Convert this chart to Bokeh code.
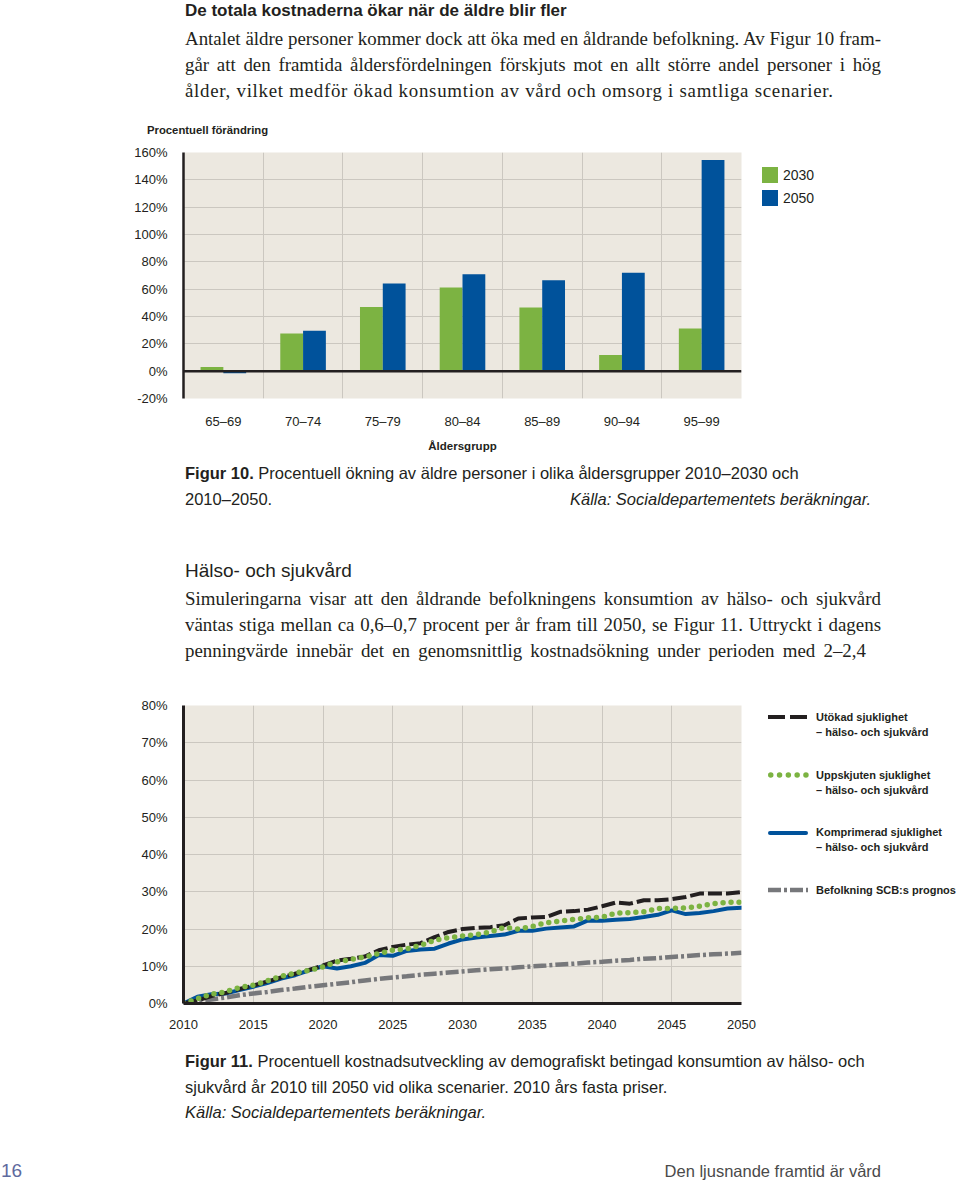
from bokeh.plotting import figure
from bokeh.models import (Range1d, FixedTicker, PrintfTickFormatter, Span,
                          ColumnDataSource, Div)
from bokeh.layouts import column, row
from bokeh.transform import dodge
from bokeh.embed import file_html
from bokeh.resources import INLINE

# ---------------- data ----------------
age_groups = ["65–69", "70–74", "75–79", "80–84", "85–89", "90–94", "95–99"]
change_2030 = [3.0, 27.6, 47.0, 61.2, 46.6, 11.9, 31.2]
change_2050 = [-1.5, 29.5, 64.2, 71.0, 66.6, 72.0, 154.5]
bar_series = ["2030", "2050"]
bar_y_ticks = [-20, 0, 20, 40, 60, 80, 100, 120, 140, 160]

years = list(range(2010, 2051))
utokad = [0.0, 0.8, 2.0, 2.8, 3.9, 4.8, 5.9, 7.0, 8.0, 9.0,
          10.2, 11.5, 12.0, 12.6, 14.3, 15.2, 15.8, 16.2, 17.8, 19.2,
          20.0, 20.3, 20.5, 21.0, 22.8, 23.1, 23.2, 24.6, 24.8, 25.2,
          26.1, 27.1, 26.8, 27.7, 27.7, 28.0, 28.6, 29.5, 29.5, 29.5, 29.9]
uppskjuten = [0.0, 1.3, 2.5, 3.1, 4.3, 4.9, 6.1, 7.3, 8.2, 8.9,
              9.8, 11.2, 11.8, 12.5, 13.4, 14.3, 14.7, 15.6, 17.0, 17.7,
              18.1, 18.5, 19.2, 20.4, 20.0, 20.7, 21.7, 22.1, 22.6, 23.0,
              23.2, 24.3, 24.4, 24.6, 25.5, 25.5, 25.7, 26.1, 26.8, 27.2, 27.2]
komprimerad = [0.0, 1.8, 2.5, 2.7, 3.6, 4.5, 5.5, 6.7, 7.6, 8.9,
               10.0, 9.4, 10.0, 10.9, 13.0, 12.8, 14.1, 14.5, 14.7, 16.1,
               17.2, 17.7, 18.1, 18.5, 19.5, 19.5, 20.1, 20.4, 20.7, 22.3,
               22.2, 22.5, 22.7, 23.2, 23.8, 25.0, 24.0, 24.3, 24.8, 25.5, 25.7]
befolkning = [0.0, 0.6, 1.1, 1.6, 2.2, 2.7, 3.1, 3.6, 4.0, 4.5,
              4.9, 5.3, 5.7, 6.2, 6.6, 7.0, 7.3, 7.7, 8.0, 8.3,
              8.6, 8.9, 9.2, 9.4, 9.7, 10.0, 10.2, 10.5, 10.7, 11.0,
              11.2, 11.5, 11.7, 12.0, 12.2, 12.5, 12.7, 13.0, 13.2, 13.4, 13.6]
line_x_ticks = [2010, 2015, 2020, 2025, 2030, 2035, 2040, 2045, 2050]
line_y_ticks = [0, 10, 20, 30, 40, 50, 60, 70, 80]

series_names = ["Utökad sjuklighet", "Uppskjuten sjuklighet",
                "Komprimerad sjuklighet", "Befolkning SCB:s prognos"]
series_sub = ["– hälso- och sjukvård", "– hälso- och sjukvård",
              "– hälso- och sjukvård", ""]

# ---------------- style ----------------
INK = "#231F20"
BEIGE = "#ECE8E0"
GRID = "#CBC7C0"
GREEN = "#7CB342"
BLUE = "#00529B"
GRAY = "#77787B"
SANS = "Liberation Sans"
SERIF = "Liberation Serif"
W = 960
CHART_W = 760
LEG_W = W - CHART_W
BL = 0.845  # baseline position inside a line-height:1 box (em)

line_styles = [  # colour, width, dash (plot), dash (legend sample), cap
    (INK, 4, "14 4", "17 5", "butt"),
    (GREEN, 5.5, "0 8", "0 8.8", "round"),
    (BLUE, 4, None, None, "round"),
    (GRAY, 4.5, "13 3 3 3", "13 3 3 3", "butt"),
]


def txt(x, base, s, size, family=SANS, weight="normal", style="normal", color=INK,
        right=False, justify=None, width=W, extra=""):
    top = base - BL * size
    pos = f"right:{width - x}px;" if right else f"left:{x}px;"
    extra += "white-space:nowrap;"
    if justify:
        extra += f"width:{justify}px;text-align:justify;text-align-last:justify;"
    return (f'<div style="position:absolute;{pos}top:{top:.1f}px;font-family:\'{family}\';'
            f'font-size:{size}px;line-height:1;font-weight:{weight};font-style:{style};'
            f'color:{color};{extra}">{s}</div>')


def block(width, height, parts):
    html = (f'<div style="position:relative;width:{width}px;height:{height}px;margin:0;'
            f'padding:0;overflow:hidden;">' + "".join(parts) + "</div>")
    return Div(text=html, width=width, height=height, margin=0,
               styles={"overflow": "hidden", "margin": "0", "padding": "0"})


# ---------------- top text (page y 0-140) ----------------
body1 = ["Antalet äldre personer kommer dock att öka med en åldrande befolkning. Av Figur 10 fram-",
         "går att den framtida åldersfördelningen förskjuts mot en allt större andel personer i hög",
         "ålder, vilket medför ökad konsumtion av vård och omsorg i samtliga scenarier."]
top_parts = [txt(185, 16, "De totala kostnaderna ökar när de äldre blir fler", 17, weight="bold")]
for i, s in enumerate(body1):
    if i < 2:
        top_parts.append(txt(185, 46 + 26 * i, s, 18.9, SERIF, justify=696))
    else:
        top_parts.append(txt(185, 46 + 26 * i, s, 18.9, SERIF, extra="letter-spacing:0.72px;"))
top_parts.append(txt(147, 134, "Procentuell förändring", 11.3, weight="bold"))
d1 = block(W, 140, top_parts)

# ---------------- bar chart (page y 140-460) ----------------
T2 = 140
pos = list(range(1, len(age_groups) + 1))
bar_src = ColumnDataSource(dict(pos=pos, group=age_groups, y30=change_2030, y50=change_2050))
p2 = figure(width=CHART_W, height=320, x_range=Range1d(0.5, len(age_groups) + 0.5),
            y_range=Range1d(-20, 160), output_backend="svg", toolbar_location=None,
            min_border_left=183, min_border_right=19, min_border_top=12, min_border_bottom=62)
p2.background_fill_color = BEIGE
p2.outline_line_color = None
p2.vbar(x=dodge("pos", -0.143, range=p2.x_range), top="y30", bottom=0, width=0.286,
        source=bar_src, fill_color=GREEN, line_color=None)
p2.vbar(x=dodge("pos", 0.143, range=p2.x_range), top="y50", bottom=0, width=0.286,
        source=bar_src, fill_color=BLUE, line_color=None)
p2.add_layout(Span(location=0, dimension="width", line_color=INK, line_width=2.5))

p2.xgrid.ticker = FixedTicker(ticks=[q + 0.5 for q in pos[:-1]])
p2.ygrid.ticker = FixedTicker(ticks=bar_y_ticks)
p2.grid.grid_line_color = GRID
p2.grid.grid_line_width = 1

p2.yaxis.ticker = FixedTicker(ticks=bar_y_ticks)
p2.yaxis.formatter = PrintfTickFormatter(format="%d%%")
p2.xaxis.ticker = FixedTicker(ticks=pos)
p2.xaxis.major_label_overrides = {q: g for q, g in zip(pos, age_groups)}
p2.xaxis.axis_label = "Åldersgrupp"
p2.xaxis.axis_line_color = None
p2.yaxis.axis_line_color = INK
p2.yaxis.axis_line_width = 2.5
for ax in (p2.xaxis, p2.yaxis):
    ax.major_tick_line_color = None
    ax.minor_tick_line_color = None
    ax.major_label_text_font = SANS
    ax.major_label_text_font_size = "13px"
    ax.major_label_text_color = INK
    ax.major_label_standoff = 10
p2.xaxis.major_label_standoff = 9
p2.xaxis.axis_label_text_font = SANS
p2.xaxis.axis_label_text_font_style = "bold"
p2.xaxis.axis_label_text_font_size = "11.5px"
p2.xaxis.axis_label_text_color = INK
p2.xaxis.axis_label_standoff = 8

# legend for the bar chart (right of the frame)
leg2_parts = []
for i, (name, col) in enumerate(zip(bar_series, [GREEN, BLUE])):
    top = 166.7 + 23.3 * i - T2
    leg2_parts.append(f'<div style="position:absolute;left:{762 - CHART_W}px;top:{top:.1f}px;'
                      f'width:16px;height:16px;background:{col};"></div>')
    leg2_parts.append(txt(783 - CHART_W, top + 13, name, 14, width=LEG_W))
leg2 = block(LEG_W, 320, leg2_parts)

# ---------------- middle text (page y 460-690) ----------------
T3 = 460
body2 = ["Simuleringarna visar att den åldrande befolkningens konsumtion av hälso- och sjukvård",
         "väntas stiga mellan ca 0,6–0,7 procent per år fram till 2050, se Figur 11. Uttryckt i dagens",
         "penningvärde innebär det en genomsnittlig kostnadsökning under perioden med 2–2,4"]
mid_parts = [
    txt(185, 479 - T3, "<b>Figur 10.</b> Procentuell ökning av äldre personer i olika åldersgrupper 2010–2030 och", 16.5),
    txt(185, 505 - T3, "2010–2050.", 16.5),
    txt(570, 505 - T3, "Källa: Socialdepartementets beräkningar.", 16.5, style="italic"),
    txt(185, 577 - T3, "Hälso- och sjukvård", 19),
]
for i, s in enumerate(body2):
    mid_parts.append(txt(185, 606 - T3 + 26 * i, s, 18.9, SERIF, justify=696 if i < 2 else 681))
d3 = block(W, 230, mid_parts)

# ---------------- line chart (page y 690-1040) ----------------
T4 = 690
line_src = ColumnDataSource(dict(year=years, utokad=utokad, uppskjuten=uppskjuten,
                                 komprimerad=komprimerad, befolkning=befolkning))
p4 = figure(width=CHART_W, height=350, x_range=Range1d(2010, 2050), y_range=Range1d(0, 80),
            output_backend="svg", toolbar_location=None,
            min_border_left=183, min_border_right=19, min_border_top=15, min_border_bottom=37)
p4.background_fill_color = BEIGE
p4.outline_line_color = None
draw_order = [3, 2, 0, 1]
cols = ["utokad", "uppskjuten", "komprimerad", "befolkning"]
for k in draw_order:
    c, lw, dash, _, cap = line_styles[k]
    kw = dict(line_color=c, line_width=lw, line_cap=cap)
    if dash:
        kw["line_dash"] = dash
    p4.line("year", cols[k], source=line_src, **kw)

p4.xgrid.ticker = FixedTicker(ticks=line_x_ticks)
p4.ygrid.ticker = FixedTicker(ticks=line_y_ticks)
p4.grid.grid_line_color = GRID
p4.grid.grid_line_width = 1
p4.xaxis.ticker = FixedTicker(ticks=line_x_ticks)
p4.yaxis.ticker = FixedTicker(ticks=line_y_ticks)
p4.yaxis.formatter = PrintfTickFormatter(format="%d%%")
for ax in (p4.xaxis, p4.yaxis):
    ax.axis_line_color = INK
    ax.axis_line_width = 3
    ax.major_tick_line_color = None
    ax.minor_tick_line_color = None
    ax.major_label_text_font = SANS
    ax.major_label_text_font_size = "13px"
    ax.major_label_text_color = INK
    ax.major_label_standoff = 10
p4.xaxis.major_label_standoff = 10

# legend for the line chart (right of the frame)
leg4_parts = []
item_y = [717, 775, 832.7, 890]
for k in range(4):
    c, lw, _, ldash, cap = line_styles[k]
    yc = item_y[k] - T4
    dash_attr = f' stroke-dasharray="{ldash}"' if ldash else ""
    x1, x2 = (2.75, 40) if k == 1 else ((2, 38) if k == 2 else (0, 40))
    leg4_parts.append(
        f'<svg style="position:absolute;left:{768 - CHART_W}px;top:{yc - 5:.1f}px;" '
        f'width="42" height="10"><line x1="{x1}" y1="5" x2="{x2}" y2="5" stroke="{c}" '
        f'stroke-width="{lw}" stroke-linecap="{cap}"{dash_attr}/></svg>')
    leg4_parts.append(txt(816 - CHART_W, yc + 4, series_names[k], 11, weight="bold", width=LEG_W))
    if series_sub[k]:
        leg4_parts.append(txt(816 - CHART_W, yc + 19, series_sub[k], 11, weight="bold", width=LEG_W))
leg4 = block(LEG_W, 350, leg4_parts)

# ---------------- bottom text (page y 1040-1182) ----------------
T5 = 1040
bot_parts = [
    txt(185, 1067 - T5, "<b>Figur 11.</b> Procentuell kostnadsutveckling av demografiskt betingad konsumtion av hälso- och", 16.5),
    txt(185, 1093 - T5, "sjukvård år 2010 till 2050 vid olika scenarier. 2010 års fasta priser.", 16.5),
    txt(185, 1118 - T5, "Källa: Socialdepartementets beräkningar.", 16.5, style="italic"),
    txt(1, 1177 - T5, "16", 19, color="#5E6A9E"),
    txt(881, 1177 - T5, "Den ljusnande framtid är vård", 16.5, color="#4A4A4A", right=True),
]
d5 = block(W, 142, bot_parts)

layout = column(d1, row(p2, leg2, spacing=0), d3, row(p4, leg4, spacing=0), d5, spacing=0)
open("out.html", "w").write(file_html(layout, INLINE))
